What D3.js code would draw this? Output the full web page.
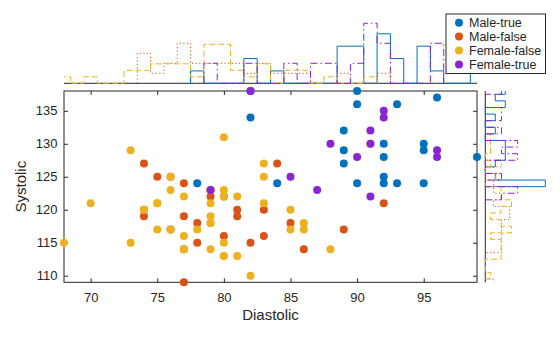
<!DOCTYPE html>
<html><head><meta charset="utf-8">
<script src="https://cdn.jsdelivr.net/npm/d3@7"></script>
<style>body{margin:0;background:#fff}svg{display:block;font-family:"Liberation Sans",Arial,Helvetica,sans-serif}</style>
</head><body><svg id="c" width="560" height="337"></svg>
<script>
// ---- data ----
const groupNames = ["Male-true", "Male-false", "Female-false", "Female-true"];
const groupColors = ["#0072BD", "#D95319", "#EDB120", "#8A25D6"];
const groupDash = [null, "1.2,2.4", "6,3", "7,3,1.5,3"];

const diastolicMaleTrue = [78,82,82,84,90,90,93,96,89,92,95,95,89,89,92,99,92,90,92,93,95];
const systolicMaleTrue  = [124,134,138,124,138,136,136,137,132,130,130,129,129,127,128,128,125,124,124,124,124];

const diastolicMaleFalse = [74,75,77,74,77,78,78,77,84,79,83,81,81,85,80,83,82,86,92,89,76,74,77,79,76,80];
const systolicMaleFalse  = [127,125,124,119,119,118,115,109,127,122,120,120,119,118,116,116,115,114,121,117,117,120,114,123,125,122];

const diastolicFemaleFalse = [73,76,76,77,70,75,74,78,75,76,77,73,68,77,80,83,83,80,81,80,79,83,85,79,79,86,85,86,80,79,80,81,88,82,74,75,79,79,80,91];
const systolicFemaleFalse  = [129,125,123,122,121,121,120,117,117,117,116,115,115,114,131,127,125,123,122,122,121,121,120,119,118,118,117,117,115,114,113,113,114,110,120,121,123,118,113,130];

const diastolicFemaleTrue = [82,88,85,87,79,92,92,91,91,96,96,90,91];
const systolicFemaleTrue  = [138,130,125,123,123,135,134,132,130,129,128,128,122];

const xTicks = [70,75,80,85,90,95];
const yTicks = [110,115,120,125,130,135];
const xLabel = "Diastolic", yLabel = "Systolic";

const groups = [
  {dia: diastolicMaleTrue, sys: systolicMaleTrue},
  {dia: diastolicMaleFalse, sys: systolicMaleFalse},
  {dia: diastolicFemaleFalse, sys: systolicFemaleFalse},
  {dia: diastolicFemaleTrue, sys: systolicFemaleTrue}
].map((g, i) => ({...g, name: groupNames[i], color: groupColors[i], dash: groupDash[i]}));

// ---- layout ----
const svg = d3.select("#c");
const ink = "#262626";
const L = 64, R = 477, T = 91, B = 282.3;
const x = d3.scaleLinear().domain([68, 99]).range([L, R]);
const y = d3.scaleLinear().domain([109, 138]).range([B, T]);

// histogram bins (width 1, centered on integers), probability normalization
function hist(vals) {
  const lo = d3.min(vals), hi = d3.max(vals);
  const bins = d3.bin().domain([lo - 0.5, hi + 0.5]).thresholds(d3.range(lo + 0.5, hi + 0.5, 1))(vals);
  return bins.map(b => ({x0: b.x0, x1: b.x1, p: b.length / vals.length}));
}
groups.forEach(g => { g.hx = hist(g.dia); g.hy = hist(g.sys); });
const maxTop = d3.max(groups, g => d3.max(g.hx, b => b.p));
const maxRight = d3.max(groups, g => d3.max(g.hy, b => b.p));

const topBase = 83.3, rightBase = 485.3;
const hTop = d3.scaleLinear().domain([0, maxTop]).range([topBase, 23.3]);
const hRight = d3.scaleLinear().domain([0, maxRight]).range([rightBase, 545.3]);

const defs = svg.append("defs");
defs.append("clipPath").attr("id", "clipTop").append("rect").attr("x", L).attr("y", 0).attr("width", R - L).attr("height", 90);
defs.append("clipPath").attr("id", "clipRight").append("rect").attr("x", 480).attr("y", T).attr("width", 80).attr("height", B - T);

// marginal baselines
svg.append("line").attr("x1", L).attr("x2", R).attr("y1", topBase).attr("y2", topBase).attr("stroke", ink).attr("stroke-width", 1);
svg.append("line").attr("x1", rightBase).attr("x2", rightBase).attr("y1", T).attr("y2", B).attr("stroke", ink).attr("stroke-width", 1);

const line = d3.line();
const gTop = svg.append("g").attr("clip-path", "url(#clipTop)");
const gRight = svg.append("g").attr("clip-path", "url(#clipRight)");
groups.forEach(g => {
  const pts = [[x(g.hx[0].x0), hTop(0)]];
  g.hx.forEach(b => { pts.push([x(b.x0), hTop(b.p)], [x(b.x1), hTop(b.p)]); });
  pts.push([x(g.hx[g.hx.length - 1].x1), hTop(0)]);
  gTop.append("path").attr("d", line(pts)).attr("fill", "none").attr("stroke", g.color)
    .attr("stroke-width", 1).attr("stroke-dasharray", g.dash);
  const pr = [[hRight(0), y(g.hy[0].x0)]];
  g.hy.forEach(b => { pr.push([hRight(b.p), y(b.x0)], [hRight(b.p), y(b.x1)]); });
  pr.push([hRight(0), y(g.hy[g.hy.length - 1].x1)]);
  gRight.append("path").attr("d", line(pr)).attr("fill", "none").attr("stroke", g.color)
    .attr("stroke-width", 1).attr("stroke-dasharray", g.dash);
});

// main axes
const fontTick = "13px";
const ax = svg.append("g").attr("transform", `translate(0,${B})`)
  .call(d3.axisBottom(x).tickValues(xTicks).tickSizeInner(-4).tickSizeOuter(0).tickPadding(10.5));
const ay = svg.append("g").attr("transform", `translate(${L},0)`)
  .call(d3.axisLeft(y).tickValues(yTicks).tickSizeInner(-4).tickSizeOuter(0).tickPadding(6.5));
const at = svg.append("g").attr("transform", `translate(0,${T})`)
  .call(d3.axisTop(x).tickValues(xTicks).tickSizeInner(-4).tickSizeOuter(0).tickFormat(""));
const ar = svg.append("g").attr("transform", `translate(${R},0)`)
  .call(d3.axisRight(y).tickValues(yTicks).tickSizeInner(-4).tickSizeOuter(0).tickFormat(""));
[ax, ay, at, ar].forEach(a => {
  a.select(".domain").remove();
  a.selectAll("line").attr("stroke", ink);
  a.selectAll("text").attr("fill", ink).style("font-size", fontTick).style("font-family", "'Liberation Sans',Arial,sans-serif");
});
svg.append("rect").attr("x", L).attr("y", T).attr("width", R - L).attr("height", B - T)
  .attr("fill", "none").attr("stroke", ink).attr("stroke-width", 1);

// points
const gPts = svg.append("g");
groups.forEach(g => {
  gPts.selectAll(null).data(d3.zip(g.dia, g.sys)).join("circle")
    .attr("cx", d => x(d[0])).attr("cy", d => y(d[1])).attr("r", 4).attr("fill", g.color);
});

// axis labels
svg.append("text").attr("x", (L + R) / 2).attr("y", 319.5).attr("text-anchor", "middle")
  .attr("fill", ink).style("font-size", "15px").text(xLabel);
svg.append("text").attr("transform", `translate(26,${(T + B) / 2}) rotate(-90)`).attr("text-anchor", "middle")
  .attr("fill", ink).style("font-size", "15px").text(yLabel);

// legend
const lg = svg.append("g");
lg.append("rect").attr("x", 446).attr("y", 14).attr("width", 99.5).attr("height", 59.5)
  .attr("fill", "#fff").attr("stroke", ink).attr("stroke-width", 1);
groups.forEach((g, i) => {
  const cy = 22.7 + i * 13.9;
  lg.append("circle").attr("cx", 459).attr("cy", cy).attr("r", 4).attr("fill", g.color);
  lg.append("text").attr("x", 469).attr("y", cy + 4.5).attr("fill", ink).style("font-size", "12.5px").text(g.name);
});
</script></body></html>
